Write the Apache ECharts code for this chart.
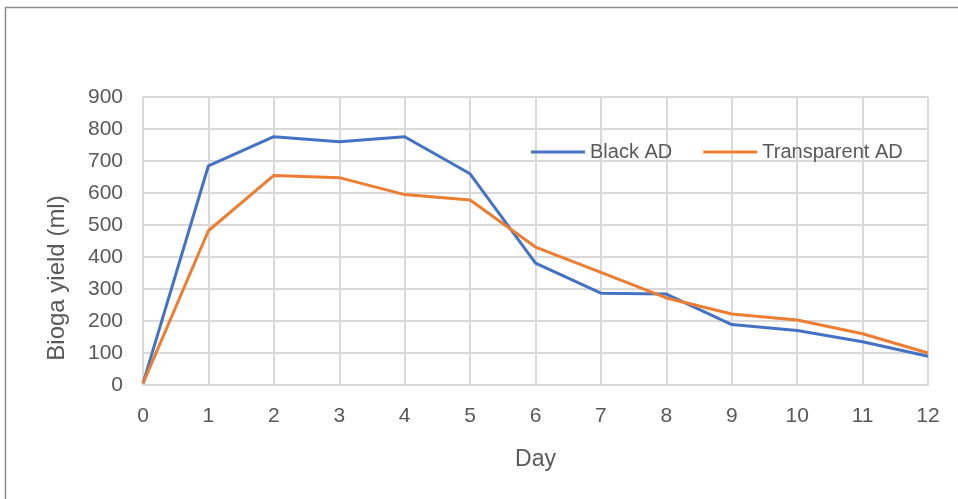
<!DOCTYPE html>
<html><head><meta charset="utf-8">
<script src="https://cdn.jsdelivr.net/npm/echarts@6/dist/echarts.min.js"></script>
<style>html,body{margin:0;padding:0;background:#fff}#c{width:958px;height:499px}</style>
</head><body><div id="c"></div>
<script>
const days = [0,1,2,3,4,5,6,7,8,9,10,11,12];
const blackAD = [5,685,776,760,776,660,381,287,284,189,170,135,90];
const transparentAD = [5,482,655,648,595,578,431,352,272,222,203,160,100];
const seriesNames = ['Black AD','Transparent AD'];
const yAxisTitle = 'Bioga yield (ml)';
const xAxisTitle = 'Day';
const chart = echarts.init(document.getElementById('c'));
const font = 'Liberation Sans';
chart.setOption({
  animation:false,
  graphic:[
    {type:'rect',shape:{x:5.5,y:7.5,width:1000,height:600},style:{fill:'none',stroke:'#8c8c8c',lineWidth:1.5}},
    {type:'text',x:57,y:278,rotation:Math.PI/2,style:{text:yAxisTitle,fontFamily:font,fontSize:24,fill:'#595959',align:'center',verticalAlign:'middle'}}
  ],
  grid:{left:143,right:30,top:97,bottom:114},
  legend:{data:seriesNames,top:137,left:526,itemWidth:54,itemHeight:3,itemGap:31,icon:'rect',
    textStyle:{fontFamily:font,fontSize:20,color:'#595959'}},
  xAxis:{type:'value',min:0,max:12,interval:1,name:xAxisTitle,nameLocation:'middle',nameGap:63,
    nameTextStyle:{fontFamily:font,fontSize:23,color:'#595959'},
    axisLine:{show:true,lineStyle:{color:'#d9d9d9',width:2}},axisTick:{show:false},
    axisLabel:{fontFamily:font,fontSize:21,color:'#595959',margin:21},
    splitLine:{show:true,lineStyle:{color:'#d9d9d9',width:2}}},
  yAxis:{type:'value',min:0,max:900,interval:100,
    axisLine:{show:false},axisTick:{show:false},
    axisLabel:{fontFamily:font,fontSize:21,color:'#595959',margin:20},
    splitLine:{show:true,lineStyle:{color:'#d9d9d9',width:2}}},
  series:[
    {name:seriesNames[0],type:'line',symbol:'none',data:days.map((d,i)=>[d,blackAD[i]]),lineStyle:{width:3,color:'#4472C4'},itemStyle:{color:'#4472C4'}},
    {name:seriesNames[1],type:'line',symbol:'none',data:days.map((d,i)=>[d,transparentAD[i]]),lineStyle:{width:3,color:'#ED7D31'},itemStyle:{color:'#ED7D31'}}
  ]
});
</script></body></html>
